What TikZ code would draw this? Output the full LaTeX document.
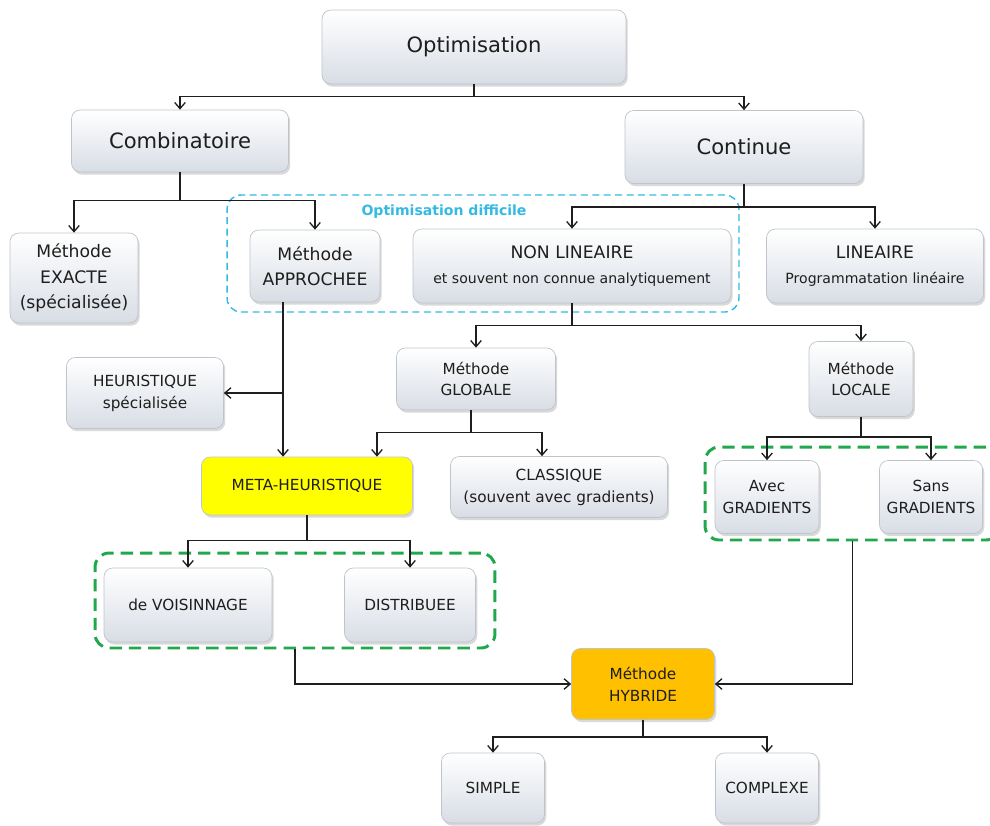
\documentclass[tikz,border=0pt]{standalone}
\usepackage{fontspec}
\setmainfont{DejaVu Sans}
\usetikzlibrary{shadows,arrows.meta}

\definecolor{boxline}{RGB}{190,196,204}
\definecolor{boxbot}{RGB}{216,221,229}
\definecolor{lgreen}{RGB}{34,168,76}
\definecolor{lcyan}{RGB}{52,186,224}
\definecolor{ltext}{RGB}{30,30,30}
\definecolor{yel}{RGB}{255,255,0}
\definecolor{orng}{RGB}{255,192,0}

\begin{document}
\begin{tikzpicture}[x=0.02cm, y=-0.02cm,
  every node/.style={align=center, text=ltext, inner sep=2pt},
  sz/.style 2 args={minimum width=#1cm, minimum height=#2cm},
  box/.style={draw=boxline, rounded corners=5pt, top color=white, bottom color=boxbot,
    drop shadow={shadow xshift=1pt, shadow yshift=-1.5pt, opacity=0.3}},
  hl/.style={draw=boxline, rounded corners=5pt, fill=#1,
    drop shadow={shadow xshift=1pt, shadow yshift=-1.5pt, opacity=0.3}},
  big/.style={font=\fontsize{12}{15}\selectfont},
  mid/.style={font=\fontsize{9.8}{14.5}\selectfont},
  sml/.style={font=\fontsize{8.7}{12.5}\selectfont},
  grpgreen/.style={draw=lgreen, line width=1.7pt, dash pattern=on 7pt off 4pt, rounded corners=8pt},
  grpcyan/.style={draw=lcyan, line width=0.8pt, dash pattern=on 4pt off 2.5pt, rounded corners=8pt},
  arr/.style={draw=ltext, line width=0.75pt, -{Straight Barb[length=3.5pt,width=6pt]}}]
\useasboundingbox (0,0) rectangle (990,825);

\node[grpcyan, sz={10.24}{2.34}] (difficile) at (483,253.5) {};
\node[grpgreen, sz={8.0}{1.9}] (grpL) at (295,600.5) {};
\node[grpgreen, sz={5.9}{1.86}] (grpR) at (852.5,493.5) {};
\node[text=lcyan, font=\bfseries\fontsize{8}{10}\selectfont] (diflab) at (444,212) {Optimisation difficile};

\node[box, big, sz={6.08}{1.48}] (opt) at (474,47) {Optimisation};
\node[box, big, sz={4.34}{1.24}] (comb) at (180,141) {Combinatoire};
\node[box, big, sz={4.76}{1.46}] (cont) at (744,147) {Continue};

\node[box, mid, sz={2.56}{1.80}] (exacte) at (74,278) {Méthode\\EXACTE\\(spécialisée)};
\node[box, mid, sz={2.60}{1.44}] (approx) at (315,266) {Méthode\\APPROCHEE};
\node[box, mid, sz={6.36}{1.48}] (nonlin) at (572,266) {NON LINEAIRE\\{\fontsize{8}{10}\selectfont et souvent non connue analytiquement}};
\node[box, mid, sz={4.34}{1.48}] (lin) at (875,266) {LINEAIRE\\{\fontsize{8}{10}\selectfont Programmatation linéaire}};

\node[box, sml, sz={3.14}{1.42}] (heur) at (145,393) {HEURISTIQUE\\spécialisée};
\node[box, sml, sz={3.18}{1.24}] (glob) at (476,379) {Méthode\\GLOBALE};
\node[box, sml, sz={2.08}{1.50}] (loc) at (861,379) {Méthode\\LOCALE};

\node[hl=yel, sml, sz={4.22}{1.16}] (meta) at (307,486) {META-HEURISTIQUE};
\node[box, sml, sz={4.34}{1.22}] (class) at (559,487) {CLASSIQUE\\(souvent avec gradients)};
\node[box, sml, sz={2.08}{1.46}] (avec) at (767,497) {Avec\\GRADIENTS};
\node[box, sml, sz={2.06}{1.46}] (sans) at (931,497) {Sans\\GRADIENTS};

\node[box, sml, sz={3.36}{1.48}] (vois) at (188,605) {de VOISINNAGE};
\node[box, sml, sz={2.62}{1.48}] (distr) at (410,605) {DISTRIBUEE};

\node[hl=orng, sml, sz={2.86}{1.42}] (hyb) at (643,684) {Méthode\\HYBRIDE};
\node[box, sml, sz={2.06}{1.40}] (simple) at (493,788) {SIMPLE};
\node[box, sml, sz={2.06}{1.40}] (complexe) at (767,788) {COMPLEXE};

\draw[arr] (opt.south) -- ++(0,12) -| (comb.north);
\draw[arr] (opt.south) -- ++(0,12) -| (cont.north);

\draw[arr] (comb.south) -- ++(0,28) -| (exacte.north);
\draw[arr] (comb.south) -- ++(0,28) -| (approx.north);

\draw[arr] (cont.south) -- ++(0,23) -| (nonlin.north);
\draw[arr] (cont.south) -- ++(0,23) -| (lin.north);

\draw[arr] (nonlin.south) -- ++(0,22) -| (glob.north);
\draw[arr] (nonlin.south) -- ++(0,22) -| (loc.north);

\coordinate (appr-out) at ([xshift=-0.64cm]approx.south);
\draw[arr] (appr-out) -- (appr-out |- meta.north);
\draw[arr] (appr-out |- heur.east) -- (heur.east);

\coordinate (glob-out) at ([xshift=-0.1cm]glob.south);
\draw[arr] (glob-out) -- ++(0,22) -| ([xshift=1.4cm]meta.north);
\draw[arr] (glob-out) -- ++(0,22) -| ([xshift=-0.34cm]class.north);

\draw[arr] (meta.south) -- ++(0,25) -| (vois.north);
\draw[arr] (meta.south) -- ++(0,25) -| (distr.north);

\draw[arr] (loc.south) -- ++(0,20) -| (avec.north);
\draw[arr] (loc.south) -- ++(0,20) -| (sans.north);

\draw[arr] (grpL.south) |- (hyb.west);
\draw[arr] (grpR.south) |- (hyb.east);

\draw[arr] (hyb.south) -- ++(0,17) -| (simple.north);
\draw[arr] (hyb.south) -- ++(0,17) -| (complexe.north);
\end{tikzpicture}
\end{document}
